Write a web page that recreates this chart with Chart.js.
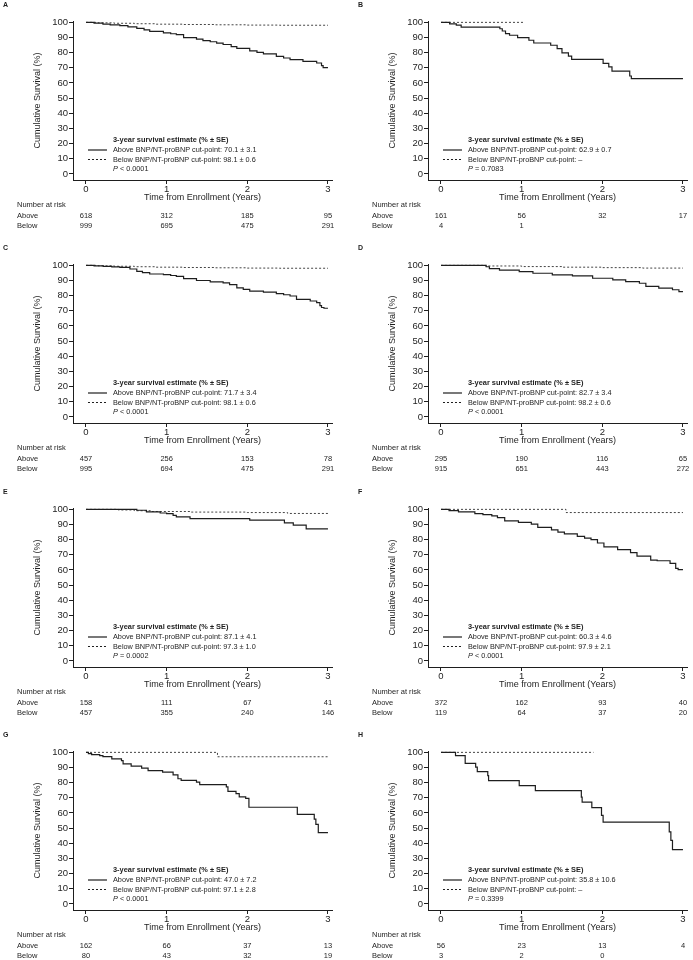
<!DOCTYPE html>
<html>
<head>
<meta charset="utf-8">
<script src="https://cdn.jsdelivr.net/npm/chart.js@4.4.0/dist/chart.umd.min.js"></script>
<style>
  html, body { margin: 0; padding: 0; background: #fff; overflow: hidden; }
  #page { position: relative; width: 693px; height: 960px; }
  #page canvas { position: absolute; }
</style>
</head>
<body>
<div id="page"></div>
<script>
// ---- DATA ----
const panelLetters = ['A', 'B', 'C', 'D', 'E', 'F', 'G', 'H'];
const xTicks = [0, 1, 2, 3];
const yTicks = [0, 10, 20, 30, 40, 50, 60, 70, 80, 90, 100];
const riskTimes = [0, 1, 2, 3];

// [years, survival %] for each Kaplan-Meier step
const aboveA = [[0,100],[0.1,99.5],[0.21,98.9],[0.3,98.4],[0.42,97.9],[0.52,97.0],[0.63,96.1],[0.72,95.0],[0.79,94.0],[0.96,93.1],[1.05,92.5],[1.12,91.9],[1.21,89.9],[1.37,88.9],[1.45,88.0],[1.54,87.2],[1.62,86.3],[1.7,85.4],[1.8,84.0],[1.87,82.9],[2.03,81.2],[2.12,80.2],[2.2,79.2],[2.36,77.5],[2.45,76.5],[2.53,75.4],[2.69,74.3],[2.86,73.2],[2.92,71.5],[2.94,70.1],[3,70.1]];
const belowA = [[0,100],[0.15,99.7],[0.35,99.4],[0.6,99.1],[0.85,98.8],[1.2,98.6],[1.6,98.4],[2.0,98.2],[2.4,98.1],[3,98.1]];
const aboveB = [[0,100],[0.107,99.0],[0.19,98.2],[0.25,96.9],[0.73,95.8],[0.76,94.3],[0.8,92.6],[0.85,91.5],[0.95,89.9],[1.09,88.2],[1.15,86.4],[1.36,84.9],[1.44,82.7],[1.5,79.9],[1.58,77.7],[1.62,75.6],[2.01,72.9],[2.08,70.7],[2.12,67.8],[2.34,64.6],[2.36,62.9],[3,62.9]];
const belowB = [[0,100],[1.04,100]];
const aboveC = [[0,100],[0.1,99.7],[0.215,99.3],[0.32,99.0],[0.42,98.7],[0.545,97.6],[0.63,96.1],[0.7,95.2],[0.79,94.3],[0.96,93.9],[1.05,93.3],[1.12,92.8],[1.21,91.3],[1.37,90.0],[1.54,89.1],[1.7,88.5],[1.78,87.3],[1.87,85.2],[1.95,84.2],[2.03,83.0],[2.2,82.4],[2.36,81.3],[2.45,80.6],[2.53,79.8],[2.61,77.6],[2.78,76.5],[2.86,75.4],[2.9,73.5],[2.92,72.2],[2.95,71.7],[3,71.7]];
const belowC = [[0,100],[0.15,99.7],[0.35,99.4],[0.6,99.1],[0.85,98.8],[1.2,98.6],[1.6,98.4],[2.0,98.2],[2.4,98.1],[3,98.1]];
const aboveD = [[0,100],[0.56,99.1],[0.6,97.8],[0.725,96.9],[0.97,95.9],[1.14,94.8],[1.38,93.7],[1.63,93.0],[1.88,91.5],[2.13,90.4],[2.29,89.3],[2.46,88.2],[2.54,86.1],[2.7,85.0],[2.87,83.9],[2.95,82.7],[3,82.7]];
const belowD = [[0,100],[0.55,99.6],[1.0,99.2],[1.5,98.8],[2.0,98.5],[2.5,98.2],[3,98.2]];
const aboveE = [[0,100],[0.63,99.4],[0.75,98.3],[0.92,97.6],[1.0,97.2],[1.08,96.1],[1.12,95.0],[1.29,93.9],[2.03,92.9],[2.46,91.1],[2.57,89.6],[2.73,87.1],[3,87.1]];
const belowE = [[0,100],[0.4,99.6],[0.6,99.1],[0.8,98.6],[1.3,98.2],[2.0,97.9],[2.5,97.3],[3,97.3]];
const aboveF = [[0,100],[0.1,99.2],[0.217,98.3],[0.42,97.2],[0.52,96.5],[0.63,95.7],[0.7,94.5],[0.79,92.4],[0.96,91.4],[1.12,90.3],[1.2,88.1],[1.37,86.5],[1.45,85.0],[1.53,83.8],[1.69,82.2],[1.78,81.0],[1.86,80.0],[1.94,77.8],[2.02,75.2],[2.19,73.4],[2.35,71.4],[2.43,69.2],[2.6,66.5],[2.68,66.1],[2.84,64.4],[2.91,61.1],[2.94,60.3],[3,60.3]];
const belowF = [[0,100],[1.55,97.9],[3,97.9]];
const aboveG = [[0,100],[0.03,99.2],[0.07,98.5],[0.17,97.8],[0.21,97.2],[0.32,95.7],[0.44,94.6],[0.46,92.4],[0.56,90.9],[0.69,89.6],[0.77,88.0],[0.95,86.9],[1.08,85.2],[1.14,82.6],[1.18,81.5],[1.37,80.4],[1.41,78.7],[1.74,77.2],[1.76,74.3],[1.86,72.8],[1.9,70.7],[1.98,69.6],[2.02,63.8],[2.62,59.1],[2.83,56.0],[2.85,52.5],[2.88,47.0],[3,47.0]];
const belowG = [[0,100],[1.63,97.1],[3,97.1]];
const aboveH = [[0,100],[0.18,97.8],[0.3,92.8],[0.43,90.2],[0.45,87.3],[0.58,84.7],[0.59,81.4],[0.97,78.1],[1.17,74.8],[1.74,70.5],[1.75,67.2],[1.87,63.5],[1.99,58.4],[2.01,54.0],[2.83,47.5],[2.85,42.0],[2.87,35.8],[3,35.8]];
const belowH = [[0,100],[1.89,100]];

const aboveSeries = [aboveA, aboveB, aboveC, aboveD, aboveE, aboveF, aboveG, aboveH];
const belowSeries = [belowA, belowB, belowC, belowD, belowE, belowF, belowG, belowH];

const aboveEstimates = ['70.1 ± 3.1', '62.9 ± 0.7', '71.7 ± 3.4', '82.7 ± 3.4', '87.1 ± 4.1', '60.3 ± 4.6', '47.0 ± 7.2', '35.8 ± 10.6'];
const belowEstimates = ['98.1 ± 0.6', '–', '98.1 ± 0.6', '98.2 ± 0.6', '97.3 ± 1.0', '97.9 ± 2.1', '97.1 ± 2.8', '–'];
const pValues = ['< 0.0001', '= 0.7083', '< 0.0001', '< 0.0001', '= 0.0002', '< 0.0001', '< 0.0001', '= 0.3399'];

const riskAbove = [[618,312,185,95],[161,56,32,17],[457,256,153,78],[295,190,116,65],[158,111,67,41],[372,162,93,40],[162,66,37,13],[56,23,13,4]];
const riskBelow = [[999,695,475,291],[4,1],[995,694,475,291],[915,651,443,272],[457,355,240,146],[119,64,37,20],[80,43,32,19],[3,2,0]];

// ---- STYLE ----
const FONT = "'Liberation Sans', Arial, sans-serif";
const INK = '#1e1e1e';
const colLeft = [0, 355];
const rowTop = [0, 243, 487, 730];

Chart.defaults.font.family = FONT;
Chart.defaults.color = INK;

const toPoints = (arr) => arr.map(([t, s]) => ({ x: t, y: s }));

// letter, legend box and number-at-risk table
const kmExtras = {
  id: 'kmExtras',
  afterDraw(chart, args, opts) {
    const ctx = chart.ctx;
    const xs = chart.scales.x;
    const x0 = xs.getPixelForValue(0);
    ctx.save();
    ctx.fillStyle = INK;
    ctx.strokeStyle = INK;
    ctx.textBaseline = 'middle';
    ctx.textAlign = 'left';

    ctx.font = `bold 7px ${FONT}`;
    ctx.fillText(opts.letter, 3, 5);

    // legend
    const lx = x0 + 27;
    ctx.font = `bold 7.4px ${FONT}`;
    ctx.fillText('3-year survival estimate (% ± SE)', lx, 140);
    ctx.font = `7.3px ${FONT}`;
    ctx.fillText('Above BNP/NT-proBNP cut-point: ' + opts.above, lx, 150);
    ctx.fillText('Below BNP/NT-proBNP cut-point: ' + opts.below, lx, 159.5);
    ctx.font = `italic 7.3px ${FONT}`;
    ctx.fillText('P', lx, 169);
    const pw = ctx.measureText('P').width;
    ctx.font = `7.3px ${FONT}`;
    ctx.fillText(' ' + opts.p, lx + pw, 169);

    ctx.lineWidth = 1.2;
    ctx.beginPath();
    ctx.moveTo(x0 + 2, 150);
    ctx.lineTo(x0 + 21, 150);
    ctx.stroke();
    ctx.lineWidth = 1;
    ctx.setLineDash([2, 2]);
    ctx.beginPath();
    ctx.moveTo(x0 + 2, 159.5);
    ctx.lineTo(x0 + 21, 159.5);
    ctx.stroke();
    ctx.setLineDash([]);

    // number at risk
    ctx.font = `7.5px ${FONT}`;
    ctx.fillText('Number at risk', 17, 204.5);
    ctx.fillText('Above', 17, 215.5);
    ctx.fillText('Below', 17, 226);
    ctx.textAlign = 'center';
    opts.riskAbove.forEach((n, j) => ctx.fillText(String(n), xs.getPixelForValue(riskTimes[j]), 215.5));
    opts.riskBelow.forEach((n, j) => ctx.fillText(String(n), xs.getPixelForValue(riskTimes[j]), 226));
    ctx.restore();
  }
};

const page = document.getElementById('page');

panelLetters.forEach((letter, i) => {
  const canvas = document.createElement('canvas');
  canvas.width = 346;
  canvas.height = 243;
  canvas.style.left = colLeft[i % 2] + 'px';
  canvas.style.top = rowTop[Math.floor(i / 2)] + 'px';
  page.appendChild(canvas);

  const axisLine = { display: true, color: INK, width: 1 };
  const tickGrid = { display: true, drawOnChartArea: false, drawTicks: true, tickLength: 4, color: INK, lineWidth: 1 };

  new Chart(canvas, {
    type: 'line',
    data: {
      datasets: [
        { data: toPoints(aboveSeries[i]), borderColor: INK, borderWidth: 1.2, stepped: 'before', pointRadius: 0, fill: false },
        { data: toPoints(belowSeries[i]), borderColor: '#444', borderWidth: 1, borderDash: [2, 2], stepped: 'before', pointRadius: 0, fill: false },
      ],
    },
    options: {
      responsive: false,
      animation: false,
      events: [],
      layout: { autoPadding: false, padding: { top: 21, right: 14, left: 0, bottom: 0 } },
      plugins: {
        legend: { display: false },
        tooltip: { enabled: false },
        kmExtras: {
          letter: letter,
          above: aboveEstimates[i],
          below: belowEstimates[i],
          p: pValues[i],
          riskAbove: riskAbove[i],
          riskBelow: riskBelow[i],
        },
      },
      scales: {
        x: {
          type: 'linear',
          min: -0.161,
          max: 3.05,
          afterFit: (s) => { s.height = 63; },
          afterBuildTicks: (s) => { s.ticks = xTicks.map((v) => ({ value: v })); },
          grid: tickGrid,
          border: axisLine,
          ticks: { font: { size: 9.5 }, color: INK, padding: 0, maxRotation: 0 },
          title: { display: true, text: 'Time from Enrollment (Years)', font: { size: 9 }, color: INK, padding: { top: 0, bottom: 40.3 } },
        },
        y: {
          type: 'linear',
          min: -4,
          max: 100.9,
          afterFit: (s) => { s.width = 73; },
          afterBuildTicks: (s) => { s.ticks = yTicks.map((v) => ({ value: v })); },
          grid: tickGrid,
          border: axisLine,
          ticks: { font: { size: 9.5 }, color: INK, padding: 1 },
          title: { display: true, text: 'Cumulative Survival (%)', font: { size: 9 }, color: INK, padding: { top: 32.6, bottom: 0 } },
        },
      },
    },
    plugins: [kmExtras],
  });
});
</script>
</body>
</html>
